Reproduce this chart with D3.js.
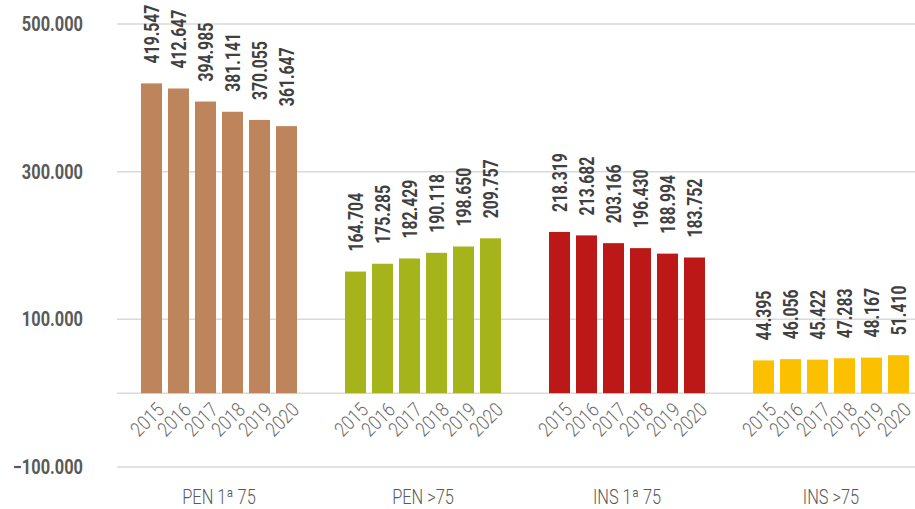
<!DOCTYPE html>
<html>
<head>
<meta charset="utf-8">
<script src="https://cdn.jsdelivr.net/npm/d3@7"></script>
<style>
  body { margin: 0; background: #fff; }
  svg { display: block; font-family: Roboto, "Liberation Sans", sans-serif; }
</style>
</head>
<body>
<svg id="chart" width="915" height="509"></svg>
<script>
// data
var groups = ["PEN 1ª 75", "PEN >75", "INS 1ª 75", "INS >75"]
var years = ["2015", "2016", "2017", "2018", "2019", "2020"]
var penPrimera = [419547, 412647, 394985, 381141, 370055, 361647]
var penMayor = [164704, 175285, 182429, 190118, 198650, 209757]
var insPrimera = [218319, 213682, 203166, 196430, 188994, 183752]
var insMayor = [44395, 46056, 45422, 47283, 48167, 51410]
var yTicks = [-100000, 100000, 300000, 500000]
var colors = ["#BE845C", "#A6B41B", "#BD1818", "#FBC100"]

var series = [penPrimera, penMayor, insPrimera, insMayor]

var svg = d3.select("#chart")
var width = 915, height = 509
var left = 117, right = 933

var es = d3.formatLocale({ decimal: ",", thousands: ".", grouping: [3], currency: ["", " €"] })
var fmt = es.format(",d")

var y = d3.scaleLinear().domain([-100000, 500000]).range([467, 24])
var x0 = d3.scaleBand().domain(groups).range([left, right]).padding(0)
var x1 = d3.scaleBand().domain(years).range([0, x0.bandwidth()])
  .paddingInner(0.222).paddingOuter(0.889)

// gridlines (incl. zero line)
svg.append("g").selectAll("line")
  .data(yTicks.concat([0]))
  .enter().append("line")
    .attr("x1", left).attr("x2", width)
    .attr("y1", function (d) { return y(d) }).attr("y2", function (d) { return y(d) })
    .attr("stroke", "#d9d9d9").attr("stroke-width", 1.5)

// y axis labels
svg.append("g").selectAll("text")
  .data(yTicks)
  .enter().append("text")
    .attr("transform", function (d) { return "translate(83," + y(d) + ") scale(0.82,1)" })
    .attr("dy", "0.35em")
    .attr("text-anchor", "end")
    .attr("font-size", 20).attr("font-weight", 700)
    .attr("fill", "#595959")
    .text(function (d) { return fmt(d) })

var g = svg.selectAll(".grp")
  .data(groups)
  .enter().append("g")
    .attr("class", "grp")
    .attr("transform", function (d) { return "translate(" + x0(d) + ",0)" })

g.each(function (name, gi) {
  var grp = d3.select(this)
  var rows = years.map(function (yr, i) { return { year: yr, value: series[gi][i] } })

  grp.selectAll("rect")
    .data(rows)
    .enter().append("rect")
      .attr("x", function (d) { return x1(d.year) })
      .attr("width", x1.bandwidth())
      .attr("y", function (d) { return y(d.value) })
      .attr("height", function (d) { return y(0) - y(d.value) })
      .attr("fill", colors[gi])

  // value labels
  grp.selectAll(".val")
    .data(rows)
    .enter().append("text")
      .attr("class", "val")
      .attr("transform", function (d) {
        var cx = x1(d.year) + x1.bandwidth() / 2
        return "translate(" + cx + "," + (y(d.value) - 20) + ") rotate(-90) scale(0.75,1)"
      })
      .attr("dy", "0.35em")
      .attr("font-size", 21).attr("font-weight", 700)
      .attr("fill", "#404040")
      .text(function (d) { return fmt(d.value) })

  // year labels
  grp.selectAll(".yr")
    .data(rows)
    .enter().append("text")
      .attr("class", "yr")
      .attr("transform", function (d) {
        var cx = x1(d.year) + x1.bandwidth() / 2
        return "translate(" + (cx + 9) + "," + (y(0) + 13) + ") rotate(-45) scale(0.85,1)"
      })
      .attr("dy", "0.35em")
      .attr("text-anchor", "end")
      .attr("font-size", 20).attr("font-weight", 300)
      .attr("fill", "#6b6b6b")
      .text(function (d) { return d.year })

  // group label
  grp.append("text")
    .attr("transform", "translate(" + (x0.bandwidth() / 2) + ",497) scale(0.82,1)")
    .attr("dy", "0.35em")
    .attr("text-anchor", "middle")
    .attr("font-size", 20).attr("font-weight", 300)
    .attr("fill", "#595959")
    .text(name)
})
</script>
</body>
</html>
